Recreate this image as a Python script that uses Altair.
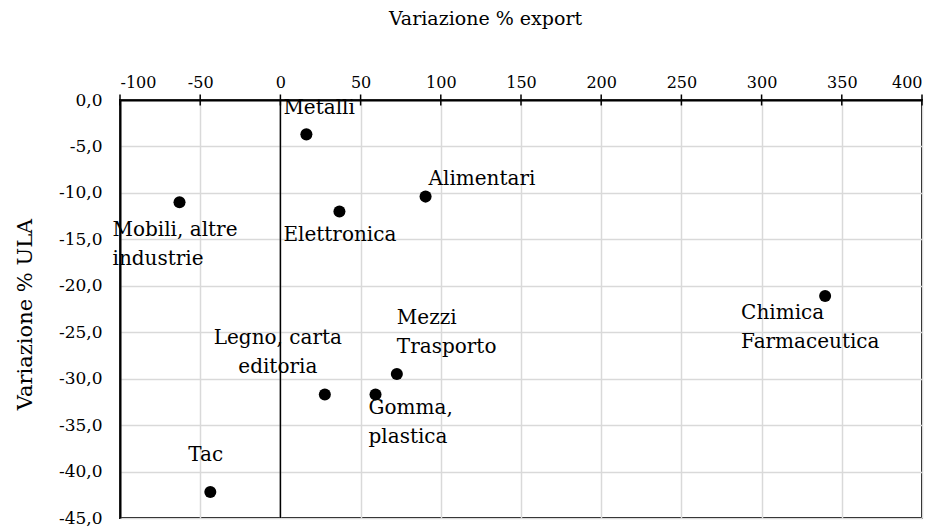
import altair as alt
import pandas as pd

# ---- data ----
keys = ["Metalli", "Elettronica", "Alimentari", "Mobili", "Tac",
        "Legno", "Gomma", "Mezzi", "Chimica"]
labels = ["Metalli", "Elettronica", "Alimentari", "Mobili, altre\nindustrie", "Tac",
          "Legno, carta\neditoria", "Gomma,\nplastica", "Mezzi\nTrasporto",
          "Chimica\nFarmaceutica"]
export_change = [16.2, 36.8, 90.5, -62.9, -43.7, 27.7, 59.3, 72.6, 339.6]
ula_change = [-3.7, -12.0, -10.4, -11.0, -42.2, -31.7, -31.7, -29.5, -21.1]
x_ticks = [-100, -50, 0, 50, 100, 150, 200, 250, 300, 350, 400]
y_ticks = [0, -5, -10, -15, -20, -25, -30, -35, -40, -45]
zero_line = [0]

df = pd.DataFrame({"key": keys, "label": labels,
                   "export": export_change, "ula": ula_change})
zero_df = pd.DataFrame({"x": zero_line})
tick_df = pd.DataFrame({"x": x_ticks, "y": [y_ticks[0]] * len(x_ticks)})

FONT = "DejaVu Serif"
LABEL_SIZE = 20

x_scale = alt.Scale(domain=[x_ticks[0], x_ticks[-1]], nice=False, zero=False)
y_scale = alt.Scale(domain=[y_ticks[-1], y_ticks[0]], nice=False, zero=False)

x_enc = alt.X("export:Q", scale=x_scale, axis=alt.Axis(
    orient="top", values=x_ticks, title="Variazione % export",
    labelExpr="replace(format(datum.value, 'd'), '\u2212', '-')",
    labelFont=FONT, labelFontSize=16, labelColor="black", labelPadding=10,
    domainColor="black", domainWidth=2, ticks=False,
    grid=True, gridColor="#d9d9d9", gridWidth=1.5,
    titleFont=FONT, titleFontSize=19, titleFontWeight="normal", titleColor="black",
    titleX=365, titleY=-76, titleAlign="center", titleBaseline="alphabetic",
))
y_enc = alt.Y("ula:Q", scale=y_scale, axis=alt.Axis(
    orient="left", values=y_ticks, title="Variazione % ULA",
    labelExpr="replace(replace(format(datum.value, '.1f'), '.', ','), '\u2212', '-')",
    labelFont=FONT, labelFontSize=17, labelColor="black", labelPadding=18,
    domainColor="black", domainWidth=2, ticks=False,
    grid=True, gridColor="#d9d9d9", gridWidth=1.5,
    titleFont=FONT, titleFontSize=21, titleFontWeight="normal", titleColor="black",
    titleX=-89, titleY=214, titleAngle=-90, titleAlign="center", titleBaseline="alphabetic",
))

base = alt.Chart(df)

points = base.mark_circle(size=145, color="black", opacity=1).encode(x=x_enc, y=y_enc)

zero_rule = alt.Chart(zero_df).mark_rule(color="black", strokeWidth=1.5).encode(
    x=alt.X("x:Q", scale=x_scale)
)

# tick marks crossing the top axis line
cross_ticks = alt.Chart(tick_df).mark_tick(
    color="black", orient="vertical", size=11, thickness=1.5, opacity=1
).encode(
    x=alt.X("x:Q", scale=x_scale),
    y=alt.Y("y:Q", scale=y_scale),
)

# label placement (offsets of the first line from its point, in pixels)
label_style = {
    "Metalli": dict(align="left", dx=-23, dy=-26),
    "Elettronica": dict(align="left", dx=-56, dy=24),
    "Alimentari": dict(align="left", dx=3, dy=-18),
    "Mobili": dict(align="left", dx=-67, dy=28),
    "Tac": dict(align="left", dx=-22, dy=-37),
    "Legno": dict(align="center", dx=-47, dy=-56),
    "Gomma": dict(align="left", dx=-7, dy=14),
    "Mezzi": dict(align="left", dx=0, dy=-56),
    "Chimica": dict(align="left", dx=-84, dy=17),
}

text_layers = []
for k in keys:
    st = label_style[k]
    text_layers.append(
        base.transform_filter(alt.datum.key == k).mark_text(
            font=FONT, fontSize=LABEL_SIZE, color="black", baseline="middle",
            lineBreak="\n", lineHeight=29, **st
        ).encode(
            x=alt.X("export:Q", scale=x_scale),
            y=alt.Y("ula:Q", scale=y_scale),
            text="label:N",
        )
    )

chart = alt.layer(zero_rule, cross_ticks, *text_layers, points).properties(
    width=802, height=418,
    autosize=alt.AutoSizeParams(type="none"),
    padding={"left": 112, "top": 92, "right": 10, "bottom": 10},
    background="white",
).configure_view(stroke="black", strokeWidth=2)

chart.save("out.html", embed_options={"renderer": "svg", "actions": False})
